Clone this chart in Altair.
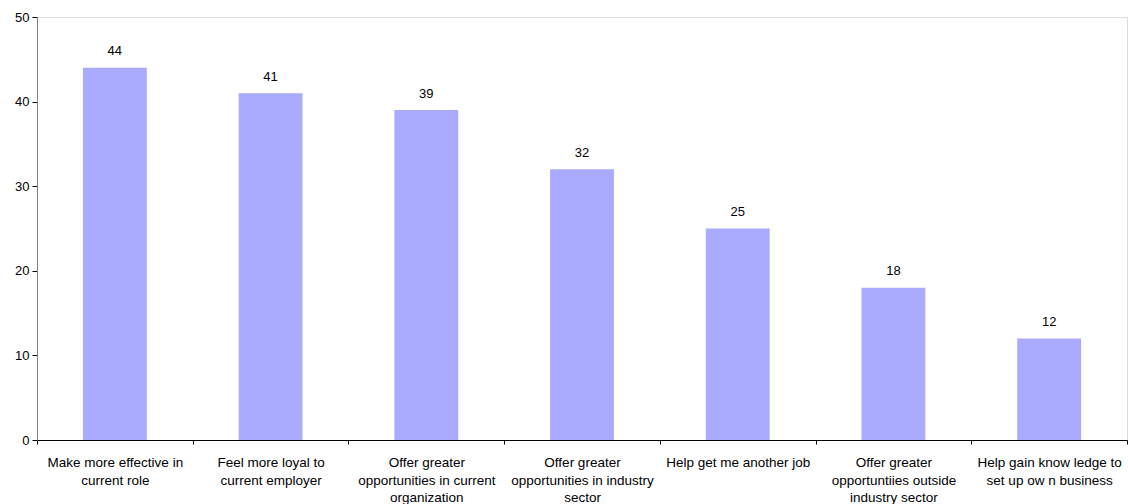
import altair as alt
import pandas as pd

categories = [
    "Make more effective in|current role",
    "Feel more loyal to|current employer",
    "Offer greater|opportunities in current|organization",
    "Offer greater|opportunities in industry|sector",
    "Help get me another job",
    "Offer greater|opportuntiies outside|industry sector",
    "Help gain know ledge to|set up ow n business",
]
values = [44, 41, 39, 32, 25, 18, 12]

df = pd.DataFrame({"cat": categories, "val": values})

FONT = "Liberation Sans"
FS = 13

x_enc = alt.X(
    "cat:N",
    sort=categories,
    title=None,
    scale=alt.Scale(paddingInner=0, paddingOuter=0),
    axis=alt.Axis(
        labelAngle=0,
        labelExpr="isValid(datum.value) ? split(datum.value, '|') : ''",
        labelLineHeight=17.5,
        labelFontSize=13.5,
        labelFont=FONT,
        labelColor="black",
        labelPadding=11.5,
        labelLimit=300,
        labelBaseline="top",
        tickBand="extent",
        tickSize=4,
        tickColor="black",
        domainColor="black",
        grid=False,
    ),
)

bars = alt.Chart(df).mark_bar(color="#AAAAFF", width=alt.RelativeBandSize(0.41)).encode(
    x=x_enc,
    y=alt.Y(
        "val:Q",
        title=None,
        scale=alt.Scale(domain=[0, 50]),
        axis=alt.Axis(
            values=[0, 10, 20, 30, 40, 50],
            labelFontSize=FS,
            labelFont=FONT,
            labelColor="black",
            tickSize=5,
            tickColor="black",
            domainColor="#808080",
            labelPadding=3,
            grid=False,
        ),
    ),
)

text = alt.Chart(df).mark_text(
    dy=-12.5, baseline="alphabetic", fontSize=FS, font=FONT, color="black"
).encode(
    x=alt.X("cat:N", sort=categories),
    y="val:Q",
    text="val:Q",
)

chart = (
    alt.layer(bars, text)
    .properties(
        width=1090,
        height=423,
        autosize=alt.AutoSizeParams(type="none"),
        padding={"left": 37, "top": 17, "right": 1, "bottom": 64},
    )
    .configure_view(stroke=None)
    .configure(background="white")
)

chart.save("out.html", embed_options={"renderer": "svg", "actions": False})
